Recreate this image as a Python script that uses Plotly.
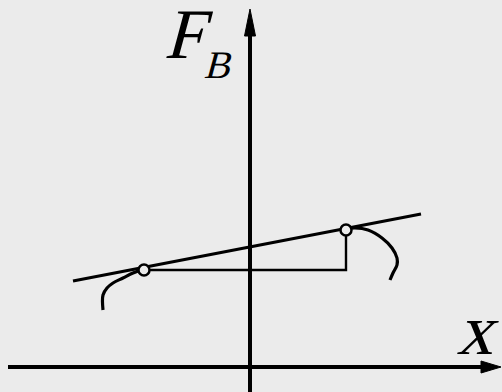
import plotly.graph_objects as go

# Diagram geometry (pixel-like data coordinates, y grows downward)
x_axis_x = [8, 484]
x_axis_y = [367, 367]
y_axis_x = [250, 250]
y_axis_y = [392, 32]

tangent_x = [73, 421]
tangent_y = [281, 214]

step_x = [144, 346, 346]
step_y = [270, 270, 230]

left_curve_x = [103, 103, 107, 113, 123, 133, 144]
left_curve_y = [310, 295, 288, 283, 278, 273, 269]

right_curve_x = [346, 355, 368, 382, 392, 397, 397, 393, 390]
right_curve_y = [229, 228, 230, 238, 248, 258, 265, 273, 280]

points_x = [144, 346]
points_y = [270, 230]

arrow_up_x = [244.5, 250, 255.5, 244.5]
arrow_up_y = [36, 9, 36, 36]
arrow_right_x = [481, 501, 481, 481]
arrow_right_y = [361, 367, 373, 361]

label_texts = ["F", "B", "x"]
label_x = [190, 220, 481]
label_y = [34, 64, 330]
label_sizes = [71, 39, 72]

BG = "#ebebeb"
INK = "black"

fig = go.Figure()

def line(xs, ys, w, shape="linear"):
    fig.add_trace(go.Scatter(x=xs, y=ys, mode="lines",
                             line=dict(color=INK, width=w, shape=shape, smoothing=1.0),
                             hoverinfo="skip", showlegend=False))

line(x_axis_x, x_axis_y, 4)
line(y_axis_x, y_axis_y, 4)
line(tangent_x, tangent_y, 3)
line(step_x, step_y, 2.4)
line(left_curve_x, left_curve_y, 3.2, "spline")
line(right_curve_x, right_curve_y, 3.2, "spline")

for ax_, ay_ in [(arrow_up_x, arrow_up_y), (arrow_right_x, arrow_right_y)]:
    fig.add_trace(go.Scatter(x=ax_, y=ay_, mode="lines", fill="toself",
                             fillcolor=INK, line=dict(color=INK, width=1),
                             hoverinfo="skip", showlegend=False))

fig.add_trace(go.Scatter(x=points_x, y=points_y, mode="markers",
                         marker=dict(size=11, color=BG, line=dict(color=INK, width=2.5)),
                         hoverinfo="skip", showlegend=False))

font_fam = "Liberation Serif, Tinos, Times New Roman, serif"
for t, lx, ly, fs in zip(label_texts, label_x, label_y, label_sizes):
    fig.add_annotation(x=lx, y=ly, text=t, showarrow=False,
                       xanchor="center", yanchor="middle",
                       font=dict(family=font_fam, size=fs, color=INK))

fig.update_layout(
    width=502, height=392,
    margin=dict(l=0, r=0, t=0, b=0),
    paper_bgcolor=BG, plot_bgcolor=BG,
    xaxis=dict(range=[0, 502], visible=False, fixedrange=True),
    yaxis=dict(range=[392, 0], visible=False, fixedrange=True),
    showlegend=False,
)

post = """
document.body.style.margin='0';
document.body.style.background='#ebebeb';
(function(){
  var gd = document.getElementById('{plot_id}');
  function sk(){
    var els = document.querySelectorAll('.annotation-text');
    els.forEach(function(e){
      e.style.transformBox = 'fill-box';
      e.style.transformOrigin = 'center';
      e.style.transform = 'skewX(-15deg)';
    });
  }
  sk();
  setTimeout(sk, 0);
  if (gd && gd.on) { gd.on('plotly_afterplot', sk); }
})();
"""

fig.write_html("out.html", config={"displayModeBar": False}, post_script=post)
